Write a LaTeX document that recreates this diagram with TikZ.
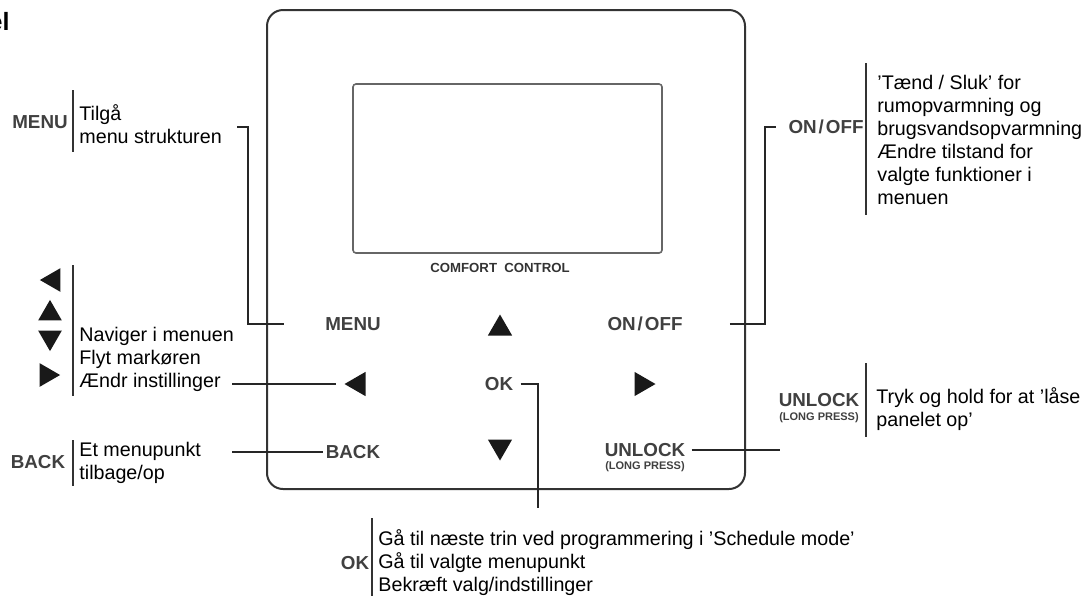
\documentclass[tikz,border=0pt]{standalone}
\usepackage{fontspec}
\setmainfont{Liberation Sans}
\usetikzlibrary{shapes.geometric}
\tikzset{
    titlenode/.style = {inner sep=0pt,font=\fontsize{12.5}{14}\selectfont\bfseries},
    brandnode/.style = {inner sep=0pt,text=black!80,font=\fontsize{6.6}{7}\selectfont\bfseries},
    keylabel/.style = {inner sep=1pt,text=black!75,font=\fontsize{9.4}{11}\selectfont\bfseries},
    keysmall/.style = {inner sep=0.5pt,text=black!75,font=\fontsize{5.5}{6.5}\selectfont\bfseries},
    keytri/.style = {regular polygon,regular polygon sides=3,fill=black!90,inner sep=0pt,minimum size=14pt},
    legtri/.style = {regular polygon,regular polygon sides=3,fill=black!90,inner sep=0pt,minimum size=13.6pt},
    legtext/.style = {anchor=west,align=left,inner sep=1pt,font=\fontsize{9.85}{11.5}\selectfont},
    edgec/.style = {draw=black!85,line width=0.6pt},
    sepbar/.style = {draw=black!80,line width=0.6pt},
    panelline/.style = {draw=black!80,line width=1pt,rounded corners=8pt},
    screenline/.style = {draw=black!60,line width=0.8pt,rounded corners=1.5pt}
}

\begin{document}
\begin{tikzpicture}[x=0.5pt,y=-0.5pt]
\clip (0,0) rectangle (1091,596);
\node[titlenode, anchor=base east] at (10,30) (title) {el};
%
\draw[panelline] (267,10) rectangle (745,489);
\draw[screenline] (353,84) rectangle (662,253);
\node[brandnode] at (500,268) (brand) {COMFORT\ \ CONTROL};
%
\node[keylabel] at (353,324) (menubtn) {MENU};
\node[keytri] at (500,328.5) (upbtn) {};
\node[keylabel] at (645,324) (onoffbtn) {ON\kern1pt/\kern1pt OFF};
\node[keytri, shape border rotate=90] at (358.5,384) (leftbtn) {};
\node[keylabel] at (499,384) (okbtn) {OK};
\node[keytri, shape border rotate=270] at (641.5,384) (rightbtn) {};
\node[keylabel] at (353,452) (backbtn) {BACK};
\node[keytri, shape border rotate=180] at (500,446.5) (downbtn) {};
\node[keylabel] at (645,450) (unlockbtn) {UNLOCK};
\node[keysmall] at (645,467) (unlocksub) {(LONG PRESS)};
%
\node[keylabel] at (40,122) (menukey) {MENU};
\draw[sepbar] (73,90) -- (73,152);
\node[legtext] at (77,124) (menutxt) {Tilgå\\menu strukturen};
%
\node[legtri, shape border rotate=90] at (53.5,280) (leftkey) {};
\node[legtri] at (50,313.5) (upkey) {};
\node[legtri, shape border rotate=180] at (50,337.5) (downkey) {};
\node[legtri, shape border rotate=270] at (46.5,375) (rightkey) {};
\draw[sepbar] (73,265) -- (73,396);
\node[legtext] at (77,359) (navtxt) {Naviger i menuen\\Flyt markøren\\Ændr instillinger};
%
\node[keylabel] at (38,462) (backkey) {BACK};
\draw[sepbar] (73,440) -- (73,486);
\node[legtext] at (77,463) (backtxt) {Et menupunkt\\tilbage/op};
%
\node[keylabel] at (826,127) (onoffkey) {ON\kern1pt/\kern1pt OFF};
\draw[sepbar] (866,63) -- (866,215);
\node[legtext] at (875,139.5) (onofftxt) {’Tænd / Sluk’ for\\rumopvarmning og\\brugsvandsopvarmning\\Ændre tilstand for\\valgte funktioner i\\menuen};
%
\node[keylabel] at (819,400) (unlockkey) {UNLOCK};
\node[keysmall] at (819,418) (unlockkeysub) {(LONG PRESS)};
\draw[sepbar] (866,363) -- (866,437);
\node[legtext] at (874,409) (unlocktxt) {Tryk og hold for at ’låse\\panelet op’};
%
\node[keylabel] at (355,563) (okkey) {OK};
\draw[sepbar] (372,518) -- (372,596);
\node[legtext] at (376,563) (oktxt) {Gå til næste trin ved programmering i ’Schedule mode’\\Gå til valgte menupunkt\\Bekræft valg/indstillinger};
%
\coordinate (menuend) at (237,127);
\coordinate (menubend) at (248,127);
\coordinate (navend) at (232,384);
\coordinate (backend) at (232,452);
\coordinate (onoffbend) at (765,127);
\coordinate (onoffend) at (776,127);
\coordinate (unlockend) at (780,450);
\coordinate (okend) at (538,508);
\draw[edgec, shorten >=19.5pt] (menuend) -- (menubend) |- (menubtn.west);
\draw[edgec, shorten >=3.8pt] (navend) -- (leftbtn.west);
\draw[edgec] (backend) -- (backbtn.west);
\draw[edgec, shorten <=22.5pt] (onoffbtn.east) -| (onoffbend) -- (onoffend);
\draw[edgec, shorten <=2pt] (unlockbtn.east) -- (unlockend);
\draw[edgec, shorten <=2.5pt] (okbtn.east) -| (okend);
\end{tikzpicture}
\end{document}
